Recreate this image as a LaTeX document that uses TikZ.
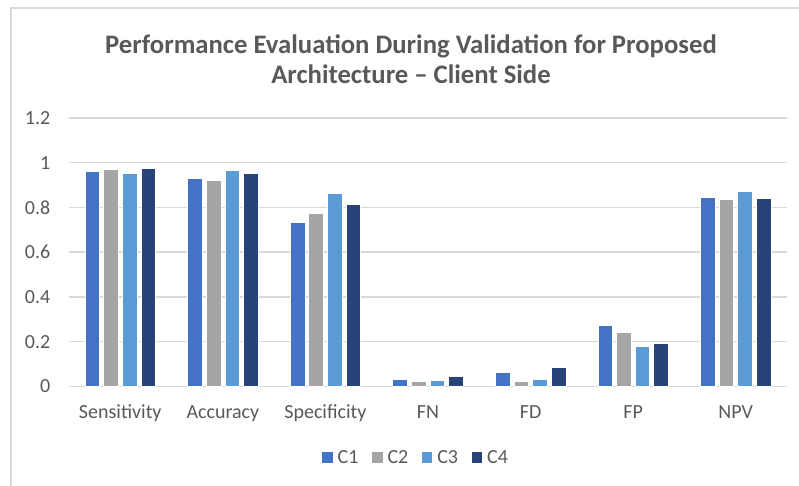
\documentclass[tikz,border=0pt]{standalone}
\usepackage{fontspec}
\setmainfont{Carlito}
\definecolor{cA}{HTML}{4472C4}
\definecolor{cB}{HTML}{A5A5A5}
\definecolor{cC}{HTML}{5B9BD5}
\definecolor{cD}{HTML}{264478}
\definecolor{gridc}{HTML}{D9D9D9}
\definecolor{txt}{HTML}{595959}
\tikzset{
  gridline/.style={draw=gridc, line width=1.4pt},
  barbox/.style={draw=white, line width=0.6pt},
  ticklab/.style={text=txt, font=\fontsize{20}{24}\selectfont, inner sep=0pt},
  catlab/.style={text=txt, font=\fontsize{20}{24}\selectfont, inner sep=0pt, anchor=base},
  titlelab/.style={text=txt, font=\fontsize{26.7}{30}\selectfont\bfseries, inner sep=0pt, anchor=base},
}
\newcommand\cbar[3]{\path[barbox, fill=#3] ({#1-7.35},386.3) rectangle ({#1+7.35},{386.3-223.6*#2});}
\begin{document}
\begin{tikzpicture}[x=1pt,y=-1pt]
\useasboundingbox (0,0) rectangle (799,485);
\fill[white] (0,0) rectangle (799,485);
\draw[draw=gridc, line width=1.2pt] (11,8) rectangle (830,510);
% title
\node[titlelab] (t1) at (411,53) {Performance Evaluation During Validation for Proposed};
\node[titlelab] (t2) at (411,83.5) {Architecture – Client Side};
% grid and y labels
\foreach \v/\l in {0/0,1/0.2,2/0.4,3/0.6,4/0.8,5/1,6/1.2}{
  \draw[gridline] (69,{386.3-44.72*\v}) -- (787,{386.3-44.72*\v});
  \node[ticklab, anchor=east] (y\v) at (50.5,{386.3-44.72*\v}) {\l};
}
% bars
\foreach \g/\a/\b/\c/\d/\n in {
  0/0.960/0.970/0.951/0.973/Sensitivity,
  1/0.930/0.923/0.967/0.951/Accuracy,
  2/0.735/0.774/0.863/0.814/Specificity,
  3/0.031/0.024/0.025/0.047/FN,
  4/0.063/0.024/0.030/0.085/FD,
  5/0.271/0.240/0.177/0.194/FP,
  6/0.845/0.838/0.870/0.842/NPV}{
  \pgfmathsetmacro\cx{69+102.57*(\g+0.5)}
  \cbar{\cx-27.9}{\a}{cA}
  \cbar{\cx-9.3}{\b}{cB}
  \cbar{\cx+9.3}{\c}{cC}
  \cbar{\cx+27.9}{\d}{cD}
  \node[catlab] (x\g) at (\cx,418.5) {\n};
}
% legend
\foreach \i/\c/\l in {0/cA/C1,1/cB/C2,2/cC/C3,3/cD/C4}{
  \fill[\c] ({322.3+49.8*\i},451.7) rectangle ({332.8+49.8*\i},462.5);
  \node[catlab, anchor=base west] (l\i) at ({337.5+49.8*\i},463.5) {\l};
}
\end{tikzpicture}
\end{document}
